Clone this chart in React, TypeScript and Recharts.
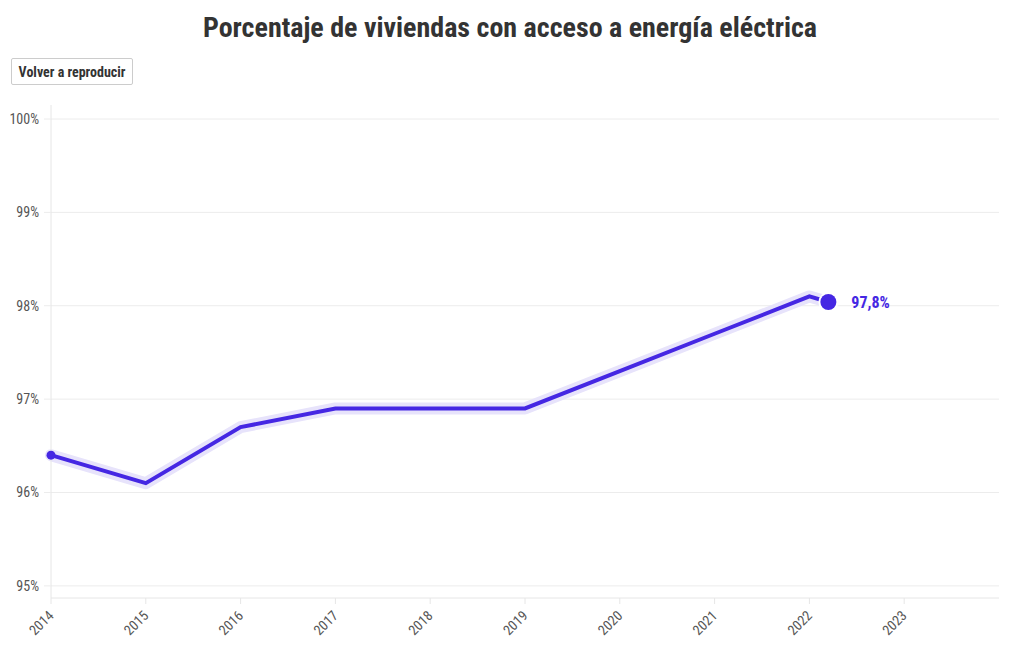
import React from 'react';
import { LineChart, Line, XAxis, YAxis, ReferenceLine } from 'recharts';

const years = [2014, 2015, 2016, 2017, 2018, 2019, 2020, 2021, 2022, 2022.2];
const values = [96.4, 96.1, 96.7, 96.9, 96.9, 96.9, 97.3, 97.7, 98.1, 98.04];
const labelValue = 97.8;
const xTicks = [2014, 2015, 2016, 2017, 2018, 2019, 2020, 2021, 2022, 2023];
const yTicks = [95, 96, 97, 98, 99, 100];
const title = 'Porcentaje de viviendas con acceso a energía eléctrica';
const buttonLabel = 'Volver a reproducir';

const data = years.map((y, i) => ({ year: y, value: values[i] }));

const FONT = "'Roboto Condensed', 'DejaVu Sans Condensed', 'Liberation Sans Narrow', Roboto, sans-serif";
const LINE = '#4527e3';
const HALO = '#e7e3fb';

const XTick = (props: any) => {
  const { x, y, payload } = props;
  return (
    <g transform={`translate(${x},${y + 7})`}>
      <text transform="rotate(-45)" textAnchor="end" dy={5} fontSize={14} fill="#555" fontFamily={FONT}>
        {payload.value}
      </text>
    </g>
  );
};

const YTick = (props: any) => {
  const { x, y, payload } = props;
  return (
    <text x={x - 3} y={y} dy={5} textAnchor="end" fontSize={14} fill="#555" fontFamily={FONT}>
      {payload.value}%
    </text>
  );
};

const Dot = (props: any) => {
  const { cx, cy, index } = props;
  if (index === 0) return <circle key="d0" cx={cx} cy={cy} r={4.5} fill={LINE} />;
  if (index === data.length - 1) {
    return (
      <g key="dl">
        <circle cx={cx} cy={cy} r={10} fill="#fff" />
        <circle cx={cx} cy={cy} r={8} fill={LINE} />
        <text x={cx + 23} y={cy} dy={6} fontSize={16} fontWeight={700} fill={LINE} fontFamily={FONT}>
          {labelValue.toFixed(1).replace('.', ',')}%
        </text>
      </g>
    );
  }
  return <g key={`e${index}`} />;
};

export default function App() {
  return (
    <div style={{ position: 'absolute', left: 0, top: 0, width: 1020, height: 650, background: '#fff', fontFamily: FONT }}>
      <div style={{ position: 'absolute', left: 0, top: 10, width: 1020, textAlign: 'center', fontSize: 28, fontWeight: 700, color: '#333', lineHeight: '36px' }}>
        {title}
      </div>
      <div style={{ position: 'absolute', left: 11, top: 58, width: 120, height: 25, border: '1px solid #ccc', borderRadius: 2, display: 'flex', alignItems: 'center', justifyContent: 'center', fontSize: 14, fontWeight: 700, color: '#333' }}>
        {buttonLabel}
      </div>
      <div style={{ position: 'absolute', left: 0, top: 0 }}>
        <LineChart width={1020} height={650} data={data} margin={{ top: 105, right: 21, bottom: 0, left: 0 }}>
          {yTicks.map((t) => (
            <ReferenceLine key={t} y={t} stroke="#ececec" strokeWidth={1} />
          ))}
          <XAxis
            dataKey="year"
            type="number"
            domain={[2014, 2024]}
            ticks={xTicks}
            height={52}
            stroke="#e6e6e6"
            tickLine={{ stroke: '#e6e6e6' }}
            tickSize={6}
            tick={<XTick />}
            interval={0}
          />
          <YAxis
            type="number"
            domain={[94.87, 100.15]}
            ticks={yTicks}
            width={51}
            stroke="#e6e6e6"
            tickLine={{ stroke: '#ececec' }}
            tickSize={7}
            tick={<YTick />}
            interval={0}
          />
          <Line dataKey="value" stroke={HALO} strokeWidth={12} dot={false} activeDot={false} isAnimationActive={false} strokeLinejoin="round" strokeLinecap="round" />
          <Line dataKey="value" stroke={LINE} strokeWidth={4} dot={<Dot />} activeDot={false} isAnimationActive={false} strokeLinejoin="miter" />
        </LineChart>
      </div>
    </div>
  );
}
